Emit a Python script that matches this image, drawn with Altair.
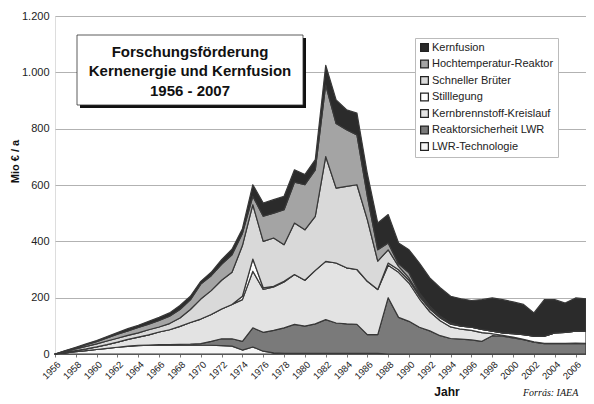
import altair as alt
import pandas as pd

years = list(range(1956, 2008))

series_names = [
    "LWR-Technologie",
    "Reaktorsicherheit LWR",
    "Kernbrennstoff-Kreislauf",
    "Stilllegung",
    "Schneller Brüter",
    "Hochtemperatur-Reaktor",
    "Kernfusion",
]

lwr_technologie = [0, 4, 8, 12, 16, 20, 24, 27, 30, 31, 31, 31, 31, 31, 31, 31,
                   30, 28, 14, 25, 10, 4, 2, 2, 2, 2, 2, 2, 2, 2, 2, 2,
                   0, 0, 0, 0, 0, 0, 0, 0, 0, 0, 0, 0, 0, 0, 0, 0, 0, 0, 0, 0]
reaktorsicherheit = [0, 0, 0, 0, 0, 0, 0, 1, 1, 1, 2, 2, 3, 4, 6, 14,
                     24, 26, 31, 68, 67, 80, 91, 103, 97, 105, 120, 108, 105, 103, 67, 67,
                     200, 130, 116, 95, 82, 65, 55, 53, 50, 45, 65, 63, 57, 51, 42, 37, 37, 37, 38, 37]
kernbrennstoff = [0, 2, 4, 6, 9, 13, 18, 24, 29, 36, 45, 53, 64, 77, 87, 95,
                  106, 122, 148, 201, 152, 154, 163, 177, 163, 190, 207, 213, 199, 195, 189, 160,
                  115, 160, 136, 101, 68, 53, 41, 35, 34, 31, 7, 3, 3, 1, 1, 1, 1, 1, 1, 1]
stilllegung = [0, 0, 0, 0, 0, 0, 0, 0, 0, 0, 0, 0, 0, 0, 0, 0,
               0, 0, 12, 43, 6, 2, 2, 0, 0, 0, 0, 0, 0, 0, 0, 0,
               8, 9, 10, 9, 10, 10, 10, 11, 11, 11, 9, 9, 12, 17, 20, 25, 37, 39, 42, 43]
schneller_brueter = [0, 3, 6, 9, 11, 13, 14, 14, 15, 18, 18, 22, 30, 46, 71, 85,
                     102, 114, 180, 193, 165, 172, 130, 183, 179, 192, 372, 266, 289, 301, 219, 101,
                     47, 12, 8, 5, 5, 2, 2, 0, 0, 0, 0, 0, 0, 0, 0, 0, 0, 0, 0, 0]
hochtemperatur = [0, 2, 4, 6, 8, 11, 14, 16, 19, 20, 23, 26, 30, 34, 53, 53,
                  56, 62, 43, 30, 89, 88, 124, 145, 160, 165, 254, 229, 201, 177, 83, 40,
                  24, 9, 18, 7, 5, 4, 3, 0, 0, 0, 0, 0, 0, 0, 0, 0, 0, 0, 0, 0]
kernfusion = [0, 1, 2, 3, 4, 5, 6, 8, 8, 10, 11, 12, 14, 13, 10, 12,
              17, 20, 17, 41, 47, 48, 48, 44, 36, 36, 70, 84, 71, 77, 80, 95,
              101, 74, 82, 106, 100, 101, 94, 97, 95, 106, 118, 118, 113, 107, 83, 130, 118, 104, 118, 115]

series_values = [lwr_technologie, reaktorsicherheit, kernbrennstoff, stilllegung,
                 schneller_brueter, hochtemperatur, kernfusion]
series_colors = ["#f6f6f6", "#7a7a7a", "#e3e3e3", "#ffffff", "#d9d9d9", "#a4a4a4", "#2b2b2b"]

title_lines = ["Forschungsförderung", "Kernenergie und Kernfusion", "1956 - 2007"]
y_ticks = [0, 200, 400, 600, 800, 1000, 1200]
x_ticks = list(range(1956, 2007, 2))

rows = []
for i, (name, vals) in enumerate(zip(series_names, series_values)):
    for yr, v in zip(years, vals):
        rows.append({"Jahr": yr, "Programm": name, "Wert": v, "idx": i})
df = pd.DataFrame(rows)

legend_order = list(reversed(series_names))
legend_colors = list(reversed(series_colors))

FONT = "Liberation Sans"

area = alt.Chart(df).mark_area(
    stroke="#383838", strokeWidth=1.2, strokeJoin="round", line=False
).encode(
    x=alt.X("Jahr:Q",
            scale=alt.Scale(domain=[1956, 2007], nice=False, zero=False),
            axis=alt.Axis(values=x_ticks, format="d", labelAngle=-45, title=None,
                          labelFontSize=9.5, labelColor="#222", labelFont=FONT,
                          labelOverlap=False, labelFlush=False,
                          grid=False, tickSize=3, tickColor="#777", domainColor="#777",
                          labelPadding=2)),
    y=alt.Y("Wert:Q", stack="zero",
            scale=alt.Scale(domain=[0, 1200], nice=False),
            axis=alt.Axis(values=y_ticks, title="Mio € / a",
                          labelExpr="replace(format(datum.value, ','), ',', '.')",
                          labelFontSize=11, labelColor="#222", labelFont=FONT,
                          titleFont=FONT, titleFontSize=11, titleFontWeight="bold",
                          titleColor="#111", titleX=-40, titleY=145, titleAngle=-90,
                          titleAlign="center", titleBaseline="middle",
                          grid=True, gridColor="#b2b2b2", gridWidth=1,
                          tickSize=0, domain=False, labelPadding=6)),
    color=alt.Color("Programm:N",
                    scale=alt.Scale(domain=legend_order, range=legend_colors),
                    legend=alt.Legend(title=None, orient="none", legendX=360, legendY=22,
                                      fillColor="white", strokeColor="#bbbbbb",
                                      padding=4, labelFont=FONT, labelFontSize=11,
                                      labelColor="#222", symbolType="square",
                                      symbolSize=60, symbolStrokeColor="#222",
                                      symbolStrokeWidth=1.2, rowPadding=3.5,
                                      labelOffset=2)),
    order=alt.Order("idx:Q", sort="ascending"),
)

anchor = pd.DataFrame({"a": [0]})

shadow = alt.Chart(anchor).mark_rect(fill="#111111").encode(
    x=alt.value(25), x2=alt.value(251), y=alt.value(22), y2=alt.value(92))
box = alt.Chart(anchor).mark_rect(fill="white", stroke="#333", strokeWidth=0.8).encode(
    x=alt.value(22), x2=alt.value(248), y=alt.value(19), y2=alt.value(89))

title_layers = []
for line, ypos in zip(title_lines, [41, 60, 80]):
    title_layers.append(
        alt.Chart(anchor).mark_text(
            text=line, font=FONT, fontSize=15, fontWeight="bold", color="#111",
            align="center", baseline="alphabetic"
        ).encode(x=alt.value(135), y=alt.value(ypos))
    )

jahr = alt.Chart(anchor).mark_text(
    text="Jahr", font=FONT, fontSize=12, fontWeight="bold", color="#111", align="center",
    baseline="alphabetic"
).encode(x=alt.value(392), y=alt.value(380))

source = alt.Chart(anchor).mark_text(
    text="Forrás: IAEA", font="Liberation Serif", fontSize=10, fontStyle="italic",
    color="#111", align="left", baseline="alphabetic"
).encode(x=alt.value(468), y=alt.value(380))

chart = alt.layer(area, shadow, box, *title_layers, jahr, source).properties(
    width=531, height=338,
    padding={"left": 47, "top": 8, "right": 0, "bottom": 46},
    autosize=alt.AutoSizeParams(type="none"),
).configure_view(
    fill="#c4c4c4", stroke="#8a8a8a", strokeWidth=1
).configure(background="white")

chart.save("out.html", embed_options={"renderer": "svg", "actions": False})
